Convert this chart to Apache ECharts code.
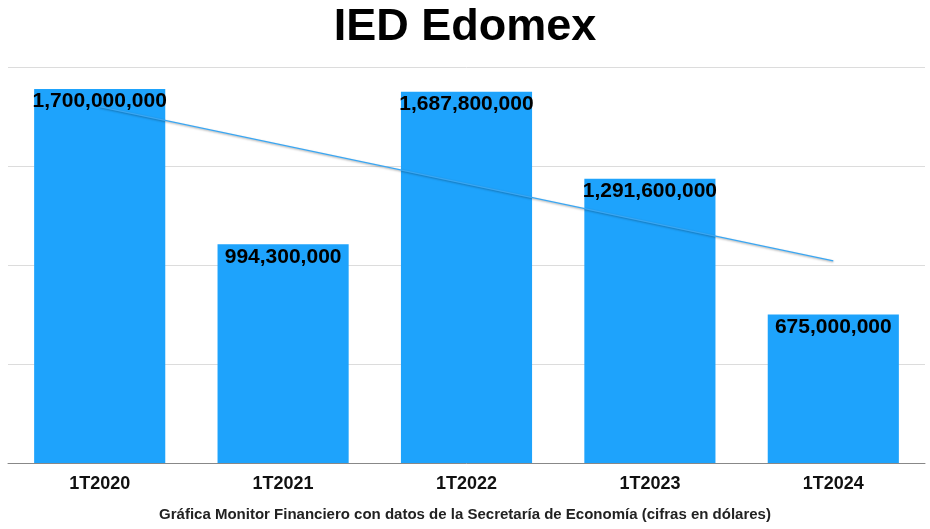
<!DOCTYPE html>
<html>
<head>
<meta charset="utf-8">
<script src="https://cdn.jsdelivr.net/npm/echarts@6/dist/echarts.min.js"></script>
<style>html,body{margin:0;padding:0;background:#fff}#c{width:930px;height:529px}</style>
</head>
<body>
<div id="c"></div>
<script>
const categories = ['1T2020', '1T2021', '1T2022', '1T2023', '1T2024'];
const values = [1700000000, 994300000, 1687800000, 1291600000, 675000000];
// trendline endpoints
const trendValues = [1620000000, null, null, null, 919000000];
const titleText = 'IED Edomex';
const footerText = 'Gráfica Monitor Financiero con datos de la Secretaría de Economía (cifras en dólares)';

const chart = echarts.init(document.getElementById('c'), null, {renderer: 'canvas'});
const fmt = v => Number(v).toLocaleString('en-US');
chart.setOption({
  animation: false,
  backgroundColor: '#fff',
  title: [{
    text: titleText, left: 'center', top: 0,
    textStyle: {fontFamily: 'Liberation Sans', fontWeight: 'bold', fontSize: 45, color: '#000'}
  }, {
    text: footerText, left: 'center', top: 502,
    textStyle: {fontFamily: 'Liberation Sans', fontWeight: 'bold', fontSize: 15, color: '#222'}
  }],
  grid: {left: 8, right: 5, top: 67, bottom: 66, containLabel: false},
  xAxis: {
    type: 'category', data: categories,
    axisLine: {lineStyle: {color: '#888', width: 1}},
    axisTick: {show: false},
    axisLabel: {fontFamily: 'Liberation Sans', fontWeight: 'bold', fontSize: 18, color: '#111', margin: 12}
  },
  yAxis: {
    type: 'value', min: 0, max: 1800000000, interval: 450000000,
    axisLabel: {show: false}, axisLine: {show: false}, axisTick: {show: false},
    splitLine: {lineStyle: {color: '#dcdcdc', width: 1}}
  },
  series: [{
    type: 'bar', data: values, barWidth: '71.5%', z: 2,
    itemStyle: {color: '#1ea3fc'},
    label: {
      show: true, position: 'insideTop', distance: 2,
      formatter: p => fmt(p.value),
      fontFamily: 'Liberation Sans', fontWeight: 'bold', fontSize: 21, color: '#000'
    }
  }, {
    type: 'line', data: trendValues, connectNulls: true, symbol: 'none', z: 3,
    lineStyle: {color: '#3aa6f2', width: 1.3, shadowColor: 'rgba(0,0,0,0.35)', shadowBlur: 2, shadowOffsetY: 1}
  }]
});
</script>
</body>
</html>
